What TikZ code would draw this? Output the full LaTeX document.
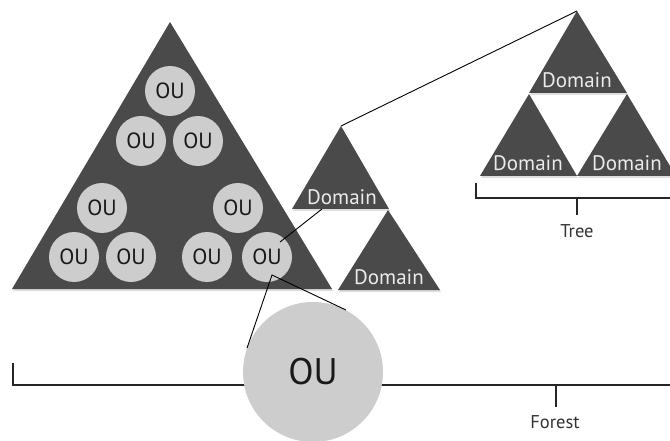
\documentclass[tikz,border=0pt]{standalone}
\usepackage{fontspec}
\setmainfont{PT Sans}
\definecolor{trigray}{HTML}{4A4A4A}
\definecolor{ougray}{HTML}{CDCDCD}
\definecolor{shadowgray}{HTML}{DEDEDE}
\begin{document}
\begin{tikzpicture}[x=1pt,y=-1pt,
  tri/.style={fill=trigray},
  trishadow/.style={fill=shadowgray},
  ou/.style={circle,fill=ougray,minimum size=50pt,inner sep=0pt,
    font=\fontsize{22}{22}\selectfont,text=black!90},
  bigoustyle/.style={circle,fill=ougray,minimum size=140pt,inner sep=0pt,
    font=\fontsize{37}{37}\selectfont,text=black!90},
  dom/.style={font=\fontsize{21}{21}\selectfont,text=white!92!black,inner sep=0pt},
  lbl/.style={font=\fontsize{18.5}{18.5}\selectfont,text=black!80,inner sep=0pt},
  link/.style={draw=black,line width=0.9pt},
  brk/.style={draw=black!85,line width=1.3pt}]
\useasboundingbox (0,0) rectangle (670,441);
\fill[white] (0,0) rectangle (670,441);
\begin{scope}
\clip (0,0) rectangle (670,441);

% forest bracket (behind the big OU)
\coordinate (fl) at (13,363);
\coordinate (flc) at (13,385);
\coordinate (fr) at (672,385);
\coordinate (ft) at (556,385);
\coordinate (ftb) at (556,407);
\draw[brk] (fl) -- (flc) -- (fr);
\draw[brk] (ft) -- (ftb);
\node[lbl] (forest) at (555,422) {Forest};

% tree bracket
\coordinate (tl) at (476,183);
\coordinate (tlc) at (476,198);
\coordinate (tr) at (672,198);
\coordinate (tt) at (577,198);
\coordinate (ttb) at (577,215);
\draw[brk] (tl) -- (tlc) -- (tr);
\draw[brk] (tt) -- (ttb);
\node[lbl] (tree) at (577,231) {Tree};

% shadows
\fill[trishadow] (171,24) -- (13,291) -- (333,291) -- cycle;
\fill[trishadow] (342,128) -- (293,211) -- (390,211) -- cycle;
\fill[trishadow] (389,212) -- (339,292) -- (441,292) -- cycle;
\fill[trishadow] (578,13) -- (530,95) -- (628,95) -- cycle;
\fill[trishadow] (530,96) -- (481,178) -- (578,178) -- cycle;
\fill[trishadow] (628,96) -- (578,178) -- (677,178) -- cycle;

% domain triangles
\coordinate (bigapex) at (170,22);
\fill[tri] (bigapex) -- (12,289) -- (332,289) -- cycle;
\coordinate (midapex) at (341,126);
\fill[tri] (midapex) -- (292,209) -- (389,209) -- cycle;
\fill[tri] (388,210) -- (338,290) -- (440,290) -- cycle;
\coordinate (treeapex) at (577,11);
\fill[tri] (treeapex) -- (529,93) -- (627,93) -- cycle;
\fill[tri] (529,94) -- (480,176) -- (577,176) -- cycle;
\fill[tri] (627,94) -- (577,176) -- (676,176) -- cycle;

\node[dom] (d1) at (342,197) {Domain};
\node[dom] (d2) at (389,277) {Domain};
\node[dom] (d3) at (577,80) {Domain};
\node[dom] (d4) at (528,163) {Domain};
\node[dom] (d5) at (627,163) {Domain};

% OUs
\node[ou] (ou1) at (170,91) {OU};
\node[ou] (ou2) at (141,141) {OU};
\node[ou] (ou3) at (198,141) {OU};
\node[ou] (ou4) at (102,208) {OU};
\node[ou] (ou5) at (238,208) {OU};
\node[ou] (ou6) at (74,257) {OU};
\node[ou] (ou7) at (131,257) {OU};
\node[ou] (ou8) at (207,257) {OU};
\node[ou] (ou9) at (267,257) {OU};

% big OU
\node[bigoustyle] (bigou) at (313,372) {OU};

% connectors
\coordinate (ouin) at (280,242);
\coordinate (dombase) at (322,209);
\draw[link] (ouin) -- (dombase);
\draw[link] (midapex) -- (treeapex);
\coordinate (zoomv) at (272,275);
\draw[link] (bigou.160) -- (zoomv) -- (bigou.62);
\end{scope}
\end{tikzpicture}
\end{document}
